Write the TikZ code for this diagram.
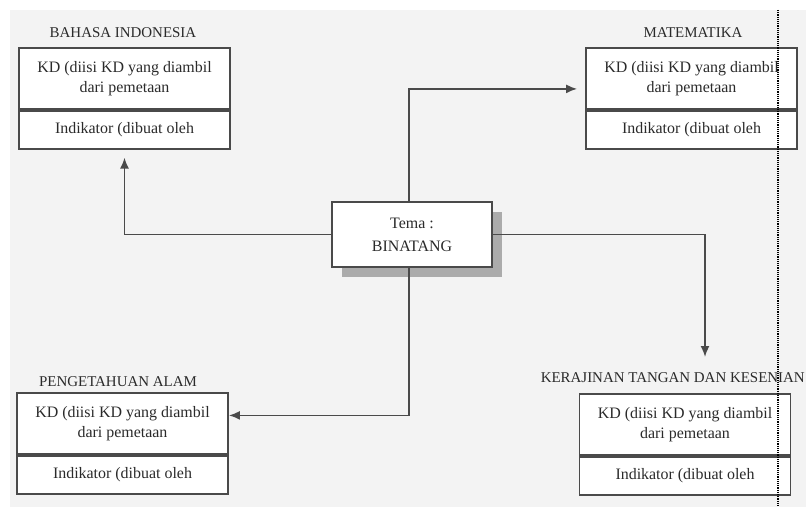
\documentclass[tikz,border=0pt]{standalone}
\usepackage{fontspec}
\setmainfont{Liberation Serif}
\usetikzlibrary{arrows.meta,shadows}
\definecolor{bg}{HTML}{F3F3F3}
\definecolor{ink}{HTML}{4A4A4A}
\definecolor{txt}{HTML}{2A2A2A}
\tikzset{
  kdbox/.style={draw=ink, line width=1.8bp, fill=white, minimum width=211bp, minimum height=61bp, anchor=north, align=center, inner sep=0pt, text=txt, font=\fontsize{16}{20}\selectfont},
  indbox/.style={draw=ink, line width=1.8bp, fill=white, minimum width=211bp, minimum height=38bp, anchor=north, inner sep=0pt, text=txt, font=\fontsize{16}{20}\selectfont},
  subj/.style={inner sep=0pt, text=txt, font=\fontsize{15}{18}\selectfont},
  link/.style={draw=ink, line width=1.7bp, -{Latex[length=11bp,width=9bp]}},
}
\begin{document}
\begin{tikzpicture}[x=1bp,y=1bp]
\useasboundingbox (0,0) rectangle (806,-507);
\clip (0,0) rectangle (806,-507);
\fill[white] (0,0) rectangle (806,-507);
\fill[bg] (10,-10) rectangle (806,-507);
\node[draw=ink, line width=1.8bp, fill=white, minimum width=160bp, minimum height=65bp, align=center, text=txt, font=\fontsize{16}{23}\selectfont, drop shadow={shadow xshift=10bp, shadow yshift=-10bp, fill=black!33, opacity=1}] (tema) at (412,-234.5) {Tema :\\BINATANG};
\node[subj] (bi-lbl) at (123,-33) {BAHASA INDONESIA};
\node[kdbox] (bi-kd) at (124.5,-47) {KD (diisi KD yang diambil\\dari pemetaan};
\node[indbox] (bi-ind) at (bi-kd.south) {Indikator (dibuat oleh};
\node[subj] (mat-lbl) at (693,-33) {MATEMATIKA};
\node[kdbox] (mat-kd) at (691.5,-47) {KD (diisi KD yang diambil\\dari pemetaan};
\node[indbox] (mat-ind) at (mat-kd.south) {Indikator (dibuat oleh};
\node[subj] (ipa-lbl) at (118,-382) {PENGETAHUAN ALAM};
\node[kdbox] (ipa-kd) at (122.5,-392) {KD (diisi KD yang diambil\\dari pemetaan};
\node[indbox] (ipa-ind) at (ipa-kd.south) {Indikator (dibuat oleh};
\node[subj, anchor=east] (ktk-lbl) at (805,-378) {KERAJINAN TANGAN DAN KESENIAN};
\node[kdbox] (ktk-kd) at (685,-393) {KD (diisi KD yang diambil\\dari pemetaan};
\node[indbox] (ktk-ind) at (ktk-kd.south) {Indikator (dibuat oleh};
\coordinate (ktk-in) at (705,-357);
\draw[link] (tema.west) -| ([yshift=-8bp]bi-ind.south);
\draw[link] ([xshift=-3bp]tema.north) |- ([xshift=-8bp,yshift=-10.5bp]mat-kd.west);
\draw[link] (tema.east) -| (ktk-in);
\draw[link] ([xshift=-3bp]tema.south) |- ([yshift=8bp]ipa-kd.east);
\draw[black, line width=1.2bp, dash pattern=on 1.2bp off 1bp] (778,-10) -- (778,-507);
\end{tikzpicture}
\end{document}
